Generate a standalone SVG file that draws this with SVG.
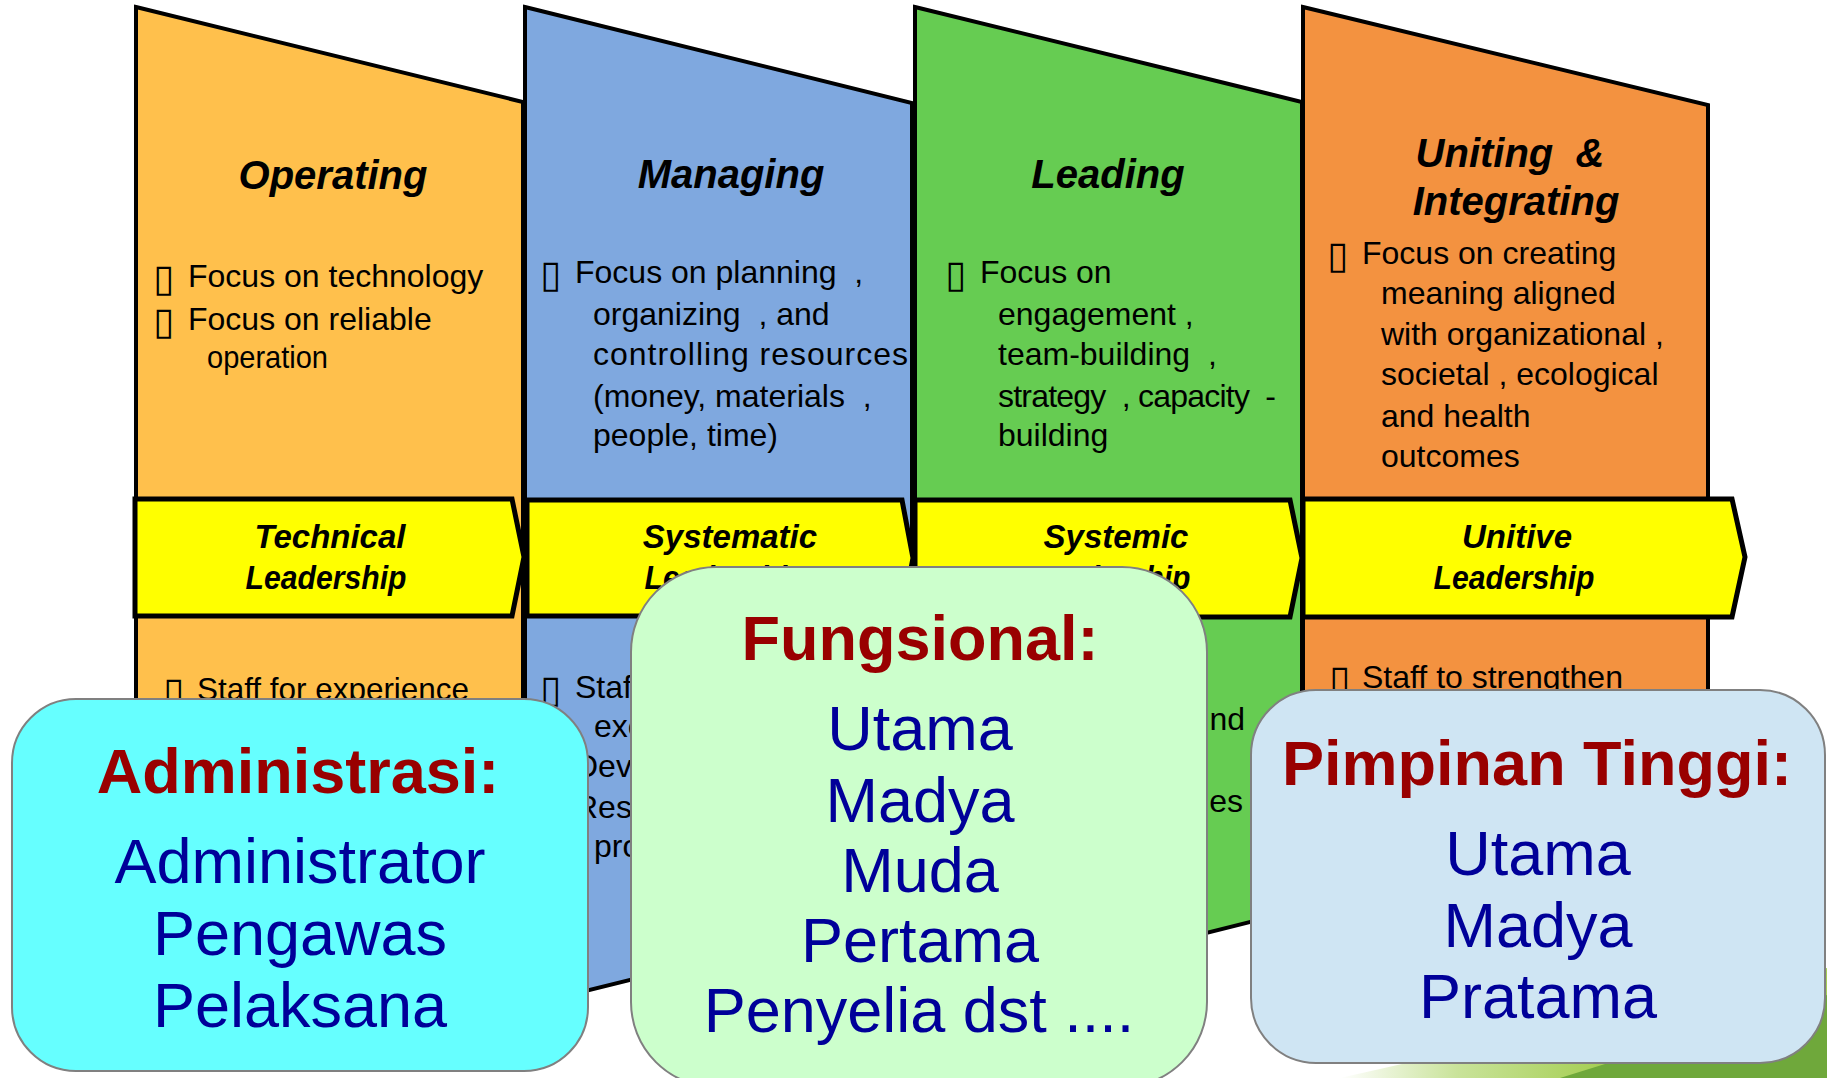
<svg xmlns="http://www.w3.org/2000/svg" width="1827" height="1078" viewBox="0 0 1827 1078">
<defs>
<style>
.panel{stroke:#000;stroke-width:4;stroke-linejoin:miter}
.arrow{fill:#FFFF00;stroke:#000;stroke-width:5;stroke-linejoin:miter}
.title{font-family:"Liberation Sans",Arial,sans-serif;font-weight:bold;font-style:italic;font-size:40px;fill:#000;text-anchor:middle;white-space:pre}
.atext{font-family:"Liberation Sans",Arial,sans-serif;font-weight:bold;font-style:italic;font-size:33px;fill:#000;text-anchor:middle}
.body{font-family:"Liberation Sans",Arial,"DejaVu Sans",sans-serif;font-size:32px;fill:#000;white-space:pre}
.bul{font-family:"DejaVu Sans",sans-serif;font-size:38px;fill:#000}
.box{stroke:#808080;stroke-width:2}
.hdr{font-family:"Liberation Sans",Arial,sans-serif;font-weight:bold;font-size:63px;fill:#990000;text-anchor:middle}
.item{font-family:"Liberation Sans",Arial,sans-serif;font-size:63px;fill:#000099;text-anchor:middle}
</style>
<linearGradient id="lime" x1="1340" y1="0" x2="1600" y2="0" gradientUnits="userSpaceOnUse">
<stop offset="0" stop-color="#FFFFFF"/>
<stop offset="0.45" stop-color="#C9E39A"/>
<stop offset="1" stop-color="#A6CF55"/>
</linearGradient>
</defs>
<rect width="1827" height="1078" fill="#FFFFFF"/>
<g id="decoration">
<polygon points="1340,1078 1827,968 1827,1078" fill="url(#lime)"/>
<polygon points="1560,1078 1827,995 1827,1078" fill="#6FA83B"/>
</g>
<g id="panel-operating">
<polygon class="panel" fill="#FFC04C" points="136,7 523,102 523,910 136,1006"/>
<text class="title" x="333" y="189">Operating</text>
<text class="bul" x="153" y="291">▯</text>
<text class="body" x="188" y="287">Focus on technology</text>
<text class="bul" x="153" y="334">▯</text>
<text class="body" x="188" y="330">Focus on reliable</text>
<text class="body" x="207" y="368" textLength="121" lengthAdjust="spacingAndGlyphs">operation</text>
<text class="bul" x="163" y="704">▯</text>
<text class="body" x="197" y="700" textLength="272" lengthAdjust="spacingAndGlyphs">Staff for experience</text>
</g>
<g id="panel-managing">
<polygon class="panel" fill="#7FA8DF" points="525,7 912,103 912,910 525,1006"/>
<text class="title" x="731" y="188">Managing</text>
<text class="bul" x="540" y="287">▯</text>
<text class="body" x="575" y="283">Focus on planning  ,</text>
<text class="body" x="593" y="325">organizing  , and</text>
<text class="body" x="593" y="365" textLength="315" lengthAdjust="spacing">controlling resources</text>
<text class="body" x="593" y="407">(money, materials  ,</text>
<text class="body" x="593" y="446">people, time)</text>
<text class="bul" x="540" y="702">▯</text>
<text class="body" x="575" y="698">Staf</text>
<text class="body" x="594" y="737">exe</text>
<text class="body" x="575" y="777">Dev</text>
<text class="body" x="575" y="818">Res</text>
<text class="body" x="594" y="857">pro</text>
</g>
<g id="panel-leading">
<polygon class="panel" fill="#66CC52" points="915,7 1302,102 1302,909 915,1006"/>
<text class="title" x="1108" y="188">Leading</text>
<text class="bul" x="945" y="287">▯</text>
<text class="body" x="980" y="283">Focus on</text>
<text class="body" x="998" y="325">engagement ,</text>
<text class="body" x="998" y="365">team-building  ,</text>
<text class="body" x="998" y="407" textLength="278" lengthAdjust="spacing">strategy  , capacity  -</text>
<text class="body" x="998" y="446">building</text>
<text class="body" x="1245" y="730" text-anchor="end">nd</text>
<text class="body" x="1243" y="812" text-anchor="end">es</text>
</g>
<g id="panel-uniting">
<polygon class="panel" fill="#F39240" points="1303,7 1708,105 1708,906 1303,1006"/>
<text class="title" x="1510" y="167">Uniting  &amp;</text>
<text class="title" x="1516" y="215">Integrating</text>
<text class="bul" x="1327" y="268">▯</text>
<text class="body" x="1362" y="264">Focus on creating</text>
<text class="body" x="1381" y="304">meaning aligned</text>
<text class="body" x="1381" y="345">with organizational ,</text>
<text class="body" x="1381" y="385">societal , ecological</text>
<text class="body" x="1381" y="427">and health</text>
<text class="body" x="1381" y="467">outcomes</text>
<text class="bul" x="1329" y="692">▯</text>
<text class="body" x="1362" y="688">Staff to strengthen</text>
</g>
<g id="arrow-technical">
<polygon class="arrow" points="135,499 512,499 524,557 512,616 135,616"/>
<text class="atext" x="330" y="548">Technical</text>
<text class="atext" x="326" y="589" textLength="161" lengthAdjust="spacingAndGlyphs">Leadership</text>
</g>
<g id="arrow-systematic">
<polygon class="arrow" points="527,500 902,500 913,558 902,616 527,616"/>
<text class="atext" x="730" y="548">Systematic</text>
<text class="atext" x="725" y="589" textLength="161" lengthAdjust="spacingAndGlyphs">Leadership</text>
</g>
<g id="arrow-systemic">
<polygon class="arrow" points="915,500 1290,500 1302,558 1290,617 915,617"/>
<text class="atext" x="1116" y="548">Systemic</text>
<text class="atext" x="1110" y="589" textLength="161" lengthAdjust="spacingAndGlyphs">Leadership</text>
</g>
<g id="arrow-unitive">
<polygon class="arrow" points="1303,499 1732,499 1745,557 1732,617 1303,617"/>
<text class="atext" x="1517" y="548">Unitive</text>
<text class="atext" x="1514" y="589" textLength="161" lengthAdjust="spacingAndGlyphs">Leadership</text>
</g>
<g id="connectors"></g>
<g id="box-administrasi">
<rect class="box" x="12" y="699" width="576" height="372" rx="64" ry="64" fill="#66FFFF"/>
<text class="hdr" x="298" y="793">Administrasi:</text>
<text class="item" x="300" y="883">Administrator</text>
<text class="item" x="300" y="955">Pengawas</text>
<text class="item" x="300" y="1027">Pelaksana</text>
</g>
<g id="box-fungsional">
<rect class="box" x="631" y="567" width="576" height="520" rx="85" ry="85" fill="#CCFFCC"/>
<text class="hdr" x="920" y="660">Fungsional:</text>
<text class="item" x="920" y="750">Utama</text>
<text class="item" x="920" y="822">Madya</text>
<text class="item" x="920" y="892">Muda</text>
<text class="item" x="920" y="962">Pertama</text>
<text class="item" x="919" y="1032">Penyelia dst ....</text>
</g>
<g id="box-pimpinan">
<rect class="box" x="1251" y="690" width="574" height="373" rx="65" ry="65" fill="#CFE5F3"/>
<text class="hdr" x="1537" y="785">Pimpinan Tinggi:</text>
<text class="item" x="1538" y="875">Utama</text>
<text class="item" x="1538" y="947">Madya</text>
<text class="item" x="1538" y="1018">Pratama</text>
</g>
</svg>
